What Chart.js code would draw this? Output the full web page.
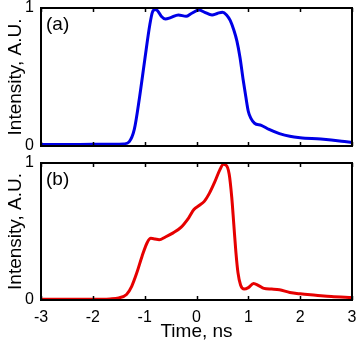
<!DOCTYPE html>
<html>
<head>
<meta charset="utf-8">
<script src="https://cdn.jsdelivr.net/npm/chart.js@4/dist/chart.umd.min.js"></script>
<style>
  html, body { margin: 0; padding: 0; background: #fff; }
  #wrap { position: relative; width: 360px; height: 342px; overflow: hidden; }
  #top { position: absolute; left: 0; top: 0; }
  #bot { position: absolute; left: 0; top: 155px; }
</style>
</head>
<body>
<div id="wrap">
  <canvas id="top" width="360" height="155"></canvas>
  <canvas id="bot" width="360" height="187"></canvas>
</div>
<script>
// ---- data ----
const xTicks = [-3, -2, -1, 0, 1, 2, 3];
const yTicks = [0, 1];
const xTitle = 'Time, ns';
const yTitle = 'Intensity, A.U.';
const labelA = '(a)';
const labelB = '(b)';

const timeA = [-3, -2.5, -2, -1.6, -1.4, -1.3, -1.2, -1.1, -1.0, -0.9, -0.85, -0.8, -0.75, -0.68, -0.6, -0.5, -0.35, -0.2, -0.1, 0.05, 0.15, 0.3, 0.4, 0.5, 0.58, 0.65, 0.72, 0.78, 0.84, 0.9, 0.95, 1.0, 1.05, 1.12, 1.25, 1.4, 1.6, 1.8, 2.0, 2.4, 2.8, 3.0];
const intensityA = [0.01, 0.01, 0.012, 0.012, 0.015, 0.03, 0.12, 0.35, 0.62, 0.88, 0.97, 0.99, 0.98, 0.94, 0.92, 0.93, 0.95, 0.94, 0.96, 0.985, 0.97, 0.95, 0.96, 0.97, 0.95, 0.91, 0.84, 0.76, 0.64, 0.48, 0.36, 0.25, 0.2, 0.165, 0.15, 0.12, 0.09, 0.07, 0.06, 0.05, 0.035, 0.025];

const timeB = [-3, -2, -1.67, -1.5, -1.35, -1.25, -1.15, -1.05, -0.95, -0.88, -0.8, -0.72, -0.6, -0.45, -0.3, -0.15, -0.05, 0.05, 0.15, 0.25, 0.35, 0.45, 0.52, 0.57, 0.63, 0.68, 0.72, 0.76, 0.8, 0.85, 0.92, 1.0, 1.1, 1.2, 1.3, 1.45, 1.6, 1.8, 2.0, 2.3, 2.6, 3.0];
const intensityB = [0.005, 0.005, 0.008, 0.015, 0.04, 0.1, 0.2, 0.32, 0.42, 0.45, 0.445, 0.44, 0.46, 0.49, 0.53, 0.6, 0.66, 0.69, 0.72, 0.78, 0.86, 0.95, 0.99, 0.985, 0.92, 0.75, 0.55, 0.35, 0.2, 0.11, 0.08, 0.09, 0.12, 0.105, 0.085, 0.08, 0.075, 0.055, 0.045, 0.035, 0.025, 0.018];

const FONT = "'Liberation Sans', Arial, sans-serif";

const framePlugin = {
  id: 'frame',
  afterDraw(chart, args, opts) {
    const {ctx, chartArea: a, scales} = chart;
    ctx.save();
    ctx.strokeStyle = '#000';
    ctx.lineWidth = 2;
    ctx.strokeRect(a.left, a.top, a.right - a.left, a.bottom - a.top);
    ctx.lineWidth = 1.5;
    xTicks.forEach(v => {
      const px = Math.round(scales.x.getPixelForValue(v)) + 0.5;
      ctx.beginPath();
      ctx.moveTo(px, a.top); ctx.lineTo(px, a.top + 4);
      ctx.moveTo(px, a.bottom); ctx.lineTo(px, a.bottom - 4);
      ctx.stroke();
    });
    ctx.fillStyle = '#000';
    ctx.font = '19px ' + FONT;
    ctx.textBaseline = 'middle';
    ctx.textAlign = 'left';
    ctx.fillText(opts.label, a.left + 5, a.top + 17);
    ctx.restore();
  }
};

function makeChart(id, xs, ys, color, label, showX) {
  const data = xs.map((x, i) => ({x: x, y: ys[i]}));
  return new Chart(document.getElementById(id), {
    type: 'line',
    data: { datasets: [{ data: data, borderColor: color, borderWidth: 3, pointRadius: 0, fill: false, cubicInterpolationMode: 'monotone', clip: 4 }] },
    options: {
      responsive: false,
      animation: false,
      devicePixelRatio: 1,
      layout: { padding: { left: 0, right: 8, top: 8, bottom: 0 } },
      plugins: { legend: { display: false }, tooltip: { enabled: false }, frame: { label: label } },
      scales: {
        x: {
          type: 'linear', min: -3, max: 3,
          afterBuildTicks: s => { s.ticks = xTicks.map(v => ({value: v})); },
          grid: { display: false, drawTicks: false },
          border: { display: false },
          ticks: { display: showX, color: '#000', padding: 8, font: { family: FONT, size: 16 }, maxRotation: 0, autoSkip: false },
          title: { display: showX, text: xTitle, color: '#000', font: { family: FONT, size: 19, lineHeight: 1.05 }, padding: { top: 0, bottom: 0 } },
          afterFit: s => { s.height = showX ? 42 : 9; s.paddingLeft = 0; s.paddingRight = 0; }
        },
        y: {
          min: 0, max: 1,
          afterBuildTicks: s => { s.ticks = yTicks.map(v => ({value: v})); },
          grid: { display: false, drawTicks: false },
          border: { display: false },
          ticks: { color: '#000', padding: 7, font: { family: FONT, size: 16 } },
          title: { display: true, text: yTitle, color: '#000', font: { family: FONT, size: 19 }, padding: { top: 4, bottom: 0 } },
          afterFit: s => { s.width = 41; s.paddingTop = 0; s.paddingBottom = 0; }
        }
      }
    },
    plugins: [framePlugin]
  });
}

makeChart('top', timeA, intensityA, 'rgb(0,0,230)', labelA, false);
makeChart('bot', timeB, intensityB, 'rgb(230,0,0)', labelB, true);
</script>
</body>
</html>
